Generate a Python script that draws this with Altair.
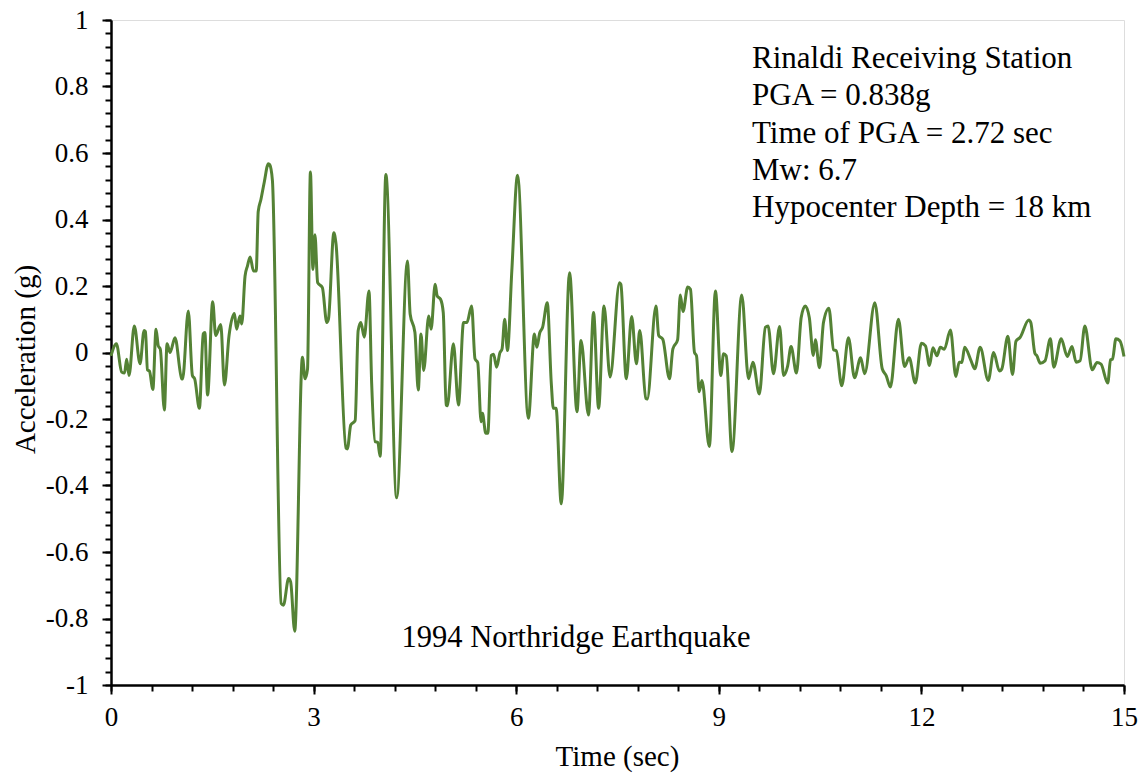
import altair as alt
import pandas as pd

# ---- data ----
time_s = [0.00, 0.08, 0.158, 0.20, 0.232, 0.267, 0.345, 0.43, 0.49, 0.51, 0.54, 0.57, 0.62, 0.667, 0.70, 0.73,
          0.79, 0.83, 0.874, 0.948, 1.047, 1.06, 1.145, 1.205, 1.24, 1.309, 1.366, 1.39, 1.43, 1.506, 1.55,
          1.625, 1.68, 1.748, 1.827, 1.86, 1.91, 1.936, 1.985, 2.02, 2.06, 2.11, 2.15, 2.18, 2.22, 2.27, 2.33,
          2.35, 2.39, 2.52, 2.553, 2.63, 2.66, 2.72, 2.835, 2.874, 2.91, 2.953, 2.99, 3.02, 3.06, 3.13, 3.195,
          3.22, 3.30, 3.33, 3.48, 3.50, 3.55, 3.615, 3.66, 3.70, 3.75, 3.82, 3.86, 3.91, 3.95, 3.985, 4.07,
          4.23, 4.39, 4.43, 4.50, 4.55, 4.59, 4.63, 4.705, 4.74, 4.80, 4.83, 4.88, 4.92, 4.963, 4.98, 5.07,
          5.145, 5.22, 5.27, 5.34, 5.39, 5.43, 5.48, 5.50, 5.55, 5.58, 5.63, 5.665, 5.71, 5.76, 5.79, 5.83,
          5.87, 5.935, 6.02, 6.18, 6.27, 6.305, 6.35, 6.39, 6.46, 6.52, 6.55, 6.59, 6.667, 6.79, 6.90, 6.96,
          7.07, 7.145, 7.22, 7.30, 7.39, 7.53, 7.55, 7.63, 7.71, 7.78, 7.83, 7.92, 7.94, 8.07, 8.11, 8.17,
          8.27, 8.32, 8.39, 8.43, 8.47, 8.54, 8.58, 8.64, 8.67, 8.71, 8.75, 8.86, 8.95, 9.03, 9.07, 9.11,
          9.195, 9.34, 9.44, 9.505, 9.60, 9.69, 9.73, 9.81, 9.90, 9.96, 10.02, 10.07, 10.15, 10.22, 10.28,
          10.34, 10.40, 10.43, 10.49, 10.55, 10.63, 10.70, 10.74, 10.82, 10.92, 11.01, 11.10, 11.16, 11.31,
          11.42, 11.48, 11.54, 11.66, 11.75, 11.82, 11.91, 12.00, 12.06, 12.12, 12.17, 12.23, 12.28, 12.34,
          12.43, 12.51, 12.56, 12.60, 12.64, 12.73, 12.79, 12.87, 12.99, 13.07, 13.155, 13.19, 13.28, 13.35,
          13.40, 13.46, 13.59, 13.62, 13.68, 13.71, 13.76, 13.83, 13.91, 13.96, 14.07, 14.16, 14.23, 14.29,
          14.35, 14.42, 14.53, 14.60, 14.66, 14.76, 14.80, 14.83, 14.88, 14.94, 15.00]

accel_g = [-0.01, 0.026, -0.059, -0.062, -0.02, -0.069, 0.08, -0.034, 0.066, 0.063, -0.052, -0.056, -0.111, 0.07, 0.02, 0.01,
           -0.173, 0.026, 0.0, 0.044, -0.079, -0.08, 0.125, -0.069, -0.08, -0.168, 0.056, 0.06, -0.128, 0.153, 0.051,
           0.084, -0.098, 0.051, 0.117, 0.07, 0.11, 0.086, 0.23, 0.26, 0.287, 0.245, 0.245, 0.424, 0.46, 0.513, 0.568,
           0.565, 0.518, -0.755, -0.76, -0.68, -0.69, -0.838, -0.014, -0.079, -0.05, 0.543, 0.25, 0.354, 0.21, 0.195, 0.09,
           0.1, 0.36, 0.33, -0.288, -0.29, -0.218, -0.205, 0.066, 0.09, 0.046, 0.185, -0.094, -0.268, -0.27, -0.312, 0.535,
           -0.437, 0.275, 0.115, 0.061, -0.113, 0.056, -0.054, 0.11, 0.07, 0.205, 0.17, 0.16, 0.12, -0.158, -0.16, 0.026,
           -0.158, 0.09, 0.09, 0.14, -0.019, -0.03, -0.208, -0.183, -0.243, -0.243, -0.009, -0.005, -0.044, 0.0, 0.01, 0.10,
           0.006, 0.245, 0.533, -0.198, 0.056, 0.016, 0.06, 0.075, 0.15, -0.094, -0.168, -0.168, -0.455, 0.24, -0.178, 0.036,
           -0.188, 0.12, -0.168, 0.14, -0.074, 0.21, 0.205, -0.079, 0.108, -0.034, 0.066, -0.138, -0.14, 0.14, 0.051, 0.04,
           -0.079, 0.011, 0.038, 0.173, 0.123, 0.197, 0.19, 0.0, -0.01, -0.118, -0.084, -0.283, 0.185, -0.069, -0.004, -0.01,
           -0.298, 0.173, -0.079, -0.029, -0.125, 0.076, 0.08, -0.064, 0.078, -0.069, -0.04, 0.018, -0.062, 0.105, 0.14,
           0.105, -0.009, 0.038, -0.046, 0.09, 0.133, 0.008, 0.005, -0.10, 0.044, -0.076, -0.016, -0.064, 0.15,
           -0.049, -0.07, -0.104, 0.10, -0.042, -0.016, -0.092, 0.028, 0.02, -0.039, 0.014, -0.01, 0.016, 0.01,
           0.068, -0.072, -0.029, -0.03, 0.016, -0.022, -0.049, 0.016, -0.084, 0.0, -0.056, -0.05, 0.049, -0.066,
           0.034, 0.045, 0.098, 0.09, -0.002, -0.01, -0.032, -0.025, 0.041, -0.044, 0.041, -0.012, 0.018, -0.029,
           -0.025, 0.08, -0.052, -0.03, -0.035, -0.092, -0.022, -0.02, 0.041, 0.035, -0.012]

x_major = [0, 3, 6, 9, 12, 15]
x_minor = [round(0.6 * i, 1) for i in range(26)]
y_major = [-1, -0.8, -0.6, -0.4, -0.2, 0, 0.2, 0.4, 0.6, 0.8, 1]
y_minor = [round(-1 + 0.04 * i, 2) for i in range(51)]

info_lines = ["Rinaldi Receiving Station", "PGA = 0.838g", "Time of PGA = 2.72 sec",
              "Mw: 6.7", "Hypocenter Depth = 18 km"]
event_label = "1994 Northridge Earthquake"

df = pd.DataFrame({"t": time_s, "a": accel_g})
one = pd.DataFrame({"k": [0]})

FONT = "Liberation Serif"
GREEN = "#548235"

xs = alt.Scale(domain=[0, 15], nice=False, zero=False)
ys = alt.Scale(domain=[-1, 1], nice=False, zero=False)

line = alt.Chart(df).mark_line(color=GREEN, strokeWidth=3, interpolate="monotone").encode(
    x=alt.X("t:Q", scale=xs, axis=alt.Axis(
        orient="bottom", values=x_major, title="Time (sec)", tickSize=9, tickWidth=2, tickColor="black",
        labelFont=FONT, labelFontSize=27, labelColor="black", labelPadding=10, labelFlush=False,
        titleFont=FONT, titleFontSize=29, titleFontWeight="normal", titleColor="black",
        titleBaseline="alphabetic", titleY=80, titleX=506,
        grid=False, domainColor="black", domainWidth=2.5)),
    y=alt.Y("a:Q", scale=ys, axis=alt.Axis(
        orient="left", values=y_major, title="Acceleration (g)", tickSize=9, tickWidth=2, tickColor="black",
        labelFont=FONT, labelFontSize=27, labelColor="black", labelPadding=14, labelFlush=False,
        labelExpr="'' + datum.value",
        titleFont=FONT, titleFontSize=29, titleFontWeight="normal", titleColor="black",
        titleBaseline="alphabetic", titleAngle=270, titleX=-77, titleY=339, titleAlign="center",
        grid=False, domainColor="black", domainWidth=2.5)),
)

minor = alt.Chart(df).mark_line(strokeOpacity=0).encode(
    x=alt.X("t:Q", scale=xs, axis=alt.Axis(
        orient="bottom", values=x_minor, labels=False, title=None, tickSize=6, tickWidth=2,
        tickColor="black", domain=False, grid=False)),
    y=alt.Y("a:Q", scale=ys, axis=alt.Axis(
        orient="left", values=y_minor, labels=False, title=None, tickSize=6, tickWidth=2,
        tickColor="black", domain=False, grid=False)),
)

info = alt.Chart(one).mark_text(
    text=info_lines, align="left", baseline="alphabetic", font=FONT, fontSize=31,
    lineHeight=37.3, color="black"
).encode(x=alt.value(641), y=alt.value(48))

event = alt.Chart(one).mark_text(
    text=event_label, align="center", baseline="alphabetic", font=FONT, fontSize=30.5, color="black"
).encode(x=alt.value(465), y=alt.value(627))

chart = alt.layer(line, minor, info, event).resolve_axis(
    x="independent", y="independent"
).properties(
    width=1013, height=665,
    autosize=alt.AutoSizeParams(type="none"),
    padding={"left": 111, "top": 20, "right": 21, "bottom": 88},
).configure_view(stroke="black", strokeWidth=2.5).configure(background="white")

chart.save("out.html", embed_options={"renderer": "svg", "actions": False})
